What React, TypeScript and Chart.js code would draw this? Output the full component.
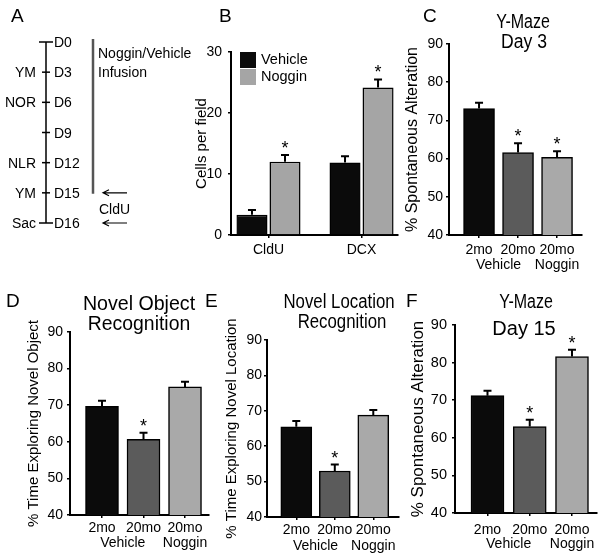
import React, { useEffect, useRef } from 'react';
import { Chart, registerables } from 'chart.js';
Chart.register(...registerables);

const LS = '"Liberation Sans", Arial, Helvetica, sans-serif';

// ---------- Panel A: timeline ----------
const timelineDays = ['D0', 'D3', 'D6', 'D9', 'D12', 'D15', 'D16'];
const timelineTests = ['', 'YM', 'NOR', '', 'NLR', 'YM', 'Sac'];
const infusionStart = 0;
const infusionEnd = 5;
const clduDays = [5, 6];
const infusionText = ['Noggin/Vehicle', 'Infusion'];

// ---------- Panel B ----------
const bCategories = ['CldU', 'DCX'];
const bSeries = ['Vehicle', 'Noggin'];
const bVehicle = [3.3, 11.9];
const bVehicleErr = [0.8, 1.0];
const bVehicleSig = [false, false];
const bNoggin = [12.0, 24.2];
const bNogginErr = [1.1, 1.3];
const bNogginSig = [true, true];

// ---------- Panels C-F ----------
const groupTicks = ['2mo', '20mo', '20mo'];
const groupNames = ['Vehicle', 'Noggin'];
const groupMembers = [[0, 1], [2, 2]];
const barColors = ['#0b0b0b', '#5b5b5b', '#a9a9a9'];

const cValues = [73.1, 61.6, 60.3];
const cErr = [1.5, 2.4, 1.6];
const cSig = [false, true, true];

const dValues = [69.7, 60.7, 75.0];
const dErr = [1.5, 1.8, 1.4];
const dSig = [false, true, false];

const eValues = [65.5, 53.0, 68.8];
const eErr = [1.6, 1.8, 1.4];
const eSig = [false, true, false];

const fValues = [71.2, 63.0, 81.6];
const fErr = [1.3, 1.8, 1.8];
const fSig = [false, true, true];

// ---------- plugins ----------
type TextItem = { text: string; x: number; y: number; size: number; align?: CanvasTextAlign; sx?: number };

const textPlugin = (items: TextItem[]) => ({
  id: 'panelText',
  afterDraw(chart: any) {
    const ctx = chart.ctx;
    items.forEach((it) => {
      ctx.save();
      ctx.fillStyle = '#000';
      ctx.font = `${it.size}px ${LS}`;
      ctx.textAlign = it.align || 'left';
      ctx.textBaseline = 'alphabetic';
      ctx.translate(it.x, it.y);
      ctx.scale(it.sx || 1, 1);
      ctx.fillText(it.text, 0, 0);
      ctx.restore();
    });
  },
});

const errorBarPlugin = (cap: number, starSize: number, starGap: number) => ({
  id: 'errorBars',
  afterDatasetsDraw(chart: any) {
    const ctx = chart.ctx;
    const ys = chart.scales.y;
    chart.data.datasets.forEach((ds: any, di: number) => {
      const meta = chart.getDatasetMeta(di);
      meta.data.forEach((el: any, i: number) => {
        const v = ds.data[i].y;
        const top = ys.getPixelForValue(v + ds.errors[i]);
        ctx.save();
        ctx.strokeStyle = '#000';
        ctx.lineWidth = 2;
        ctx.beginPath();
        ctx.moveTo(el.x, el.y);
        ctx.lineTo(el.x, top);
        ctx.moveTo(el.x - cap / 2, top);
        ctx.lineTo(el.x + cap / 2, top);
        ctx.stroke();
        if (ds.sig && ds.sig[i]) {
          ctx.fillStyle = '#000';
          ctx.font = `${starSize}px ${LS}`;
          ctx.textAlign = 'center';
          ctx.textBaseline = 'alphabetic';
          ctx.fillText('*', el.x, top - starGap);
        }
        ctx.restore();
      });
    });
  },
});

const groupLabelPlugin = (dy: number, size: number) => ({
  id: 'groupLabels',
  afterDraw(chart: any) {
    const xs = chart.scales.x;
    const ctx = chart.ctx;
    ctx.save();
    ctx.font = `${size}px ${LS}`;
    ctx.fillStyle = '#000';
    ctx.textAlign = 'center';
    ctx.textBaseline = 'middle';
    groupNames.forEach((name, g) => {
      const [a, b] = groupMembers[g];
      const x = (xs.getPixelForValue(a) + xs.getPixelForValue(b)) / 2;
      ctx.fillText(name, x, xs.top + dy);
    });
    ctx.restore();
  },
});

const boxLegendPlugin = (x: number, y: number, box: number, step: number, size: number) => ({
  id: 'boxLegend',
  afterDraw(chart: any) {
    const ctx = chart.ctx;
    chart.data.datasets.forEach((ds: any, i: number) => {
      const top = y + i * step;
      ctx.save();
      ctx.fillStyle = ds.backgroundColor;
      ctx.fillRect(x, top, box, box);
      ctx.fillStyle = '#000';
      ctx.font = `${size}px ${LS}`;
      ctx.textAlign = 'left';
      ctx.textBaseline = 'middle';
      ctx.fillText(ds.label, x + box + 5, top + box / 2);
      ctx.restore();
    });
  },
});

const timelinePlugin = {
  id: 'timeline',
  afterDatasetsDraw(chart: any) {
    const ctx = chart.ctx;
    const xs = chart.scales.x;
    const ys = chart.scales.y;
    const lx = xs.getPixelForValue(0);
    const ix = xs.getPixelForValue(1);
    ctx.save();
    ctx.fillStyle = '#000';
    ctx.font = `14px ${LS}`;
    ctx.textBaseline = 'alphabetic';
    timelineDays.forEach((d, i) => {
      const y = ys.getPixelForValue(i);
      ctx.textAlign = 'left';
      ctx.fillText(d, lx + 8, y + 5);
      if (timelineTests[i]) {
        ctx.textAlign = 'right';
        ctx.fillText(timelineTests[i], lx - 10, y + 5);
      }
    });
    const y0 = ys.getPixelForValue(infusionStart);
    ctx.textAlign = 'left';
    ctx.fillText(infusionText[0], ix + 5, y0 + 16);
    ctx.fillText(infusionText[1], ix + 5, y0 + 35);
    ctx.strokeStyle = '#000';
    ctx.lineWidth = 1.2;
    clduDays.forEach((d) => {
      const y = ys.getPixelForValue(d);
      ctx.beginPath();
      ctx.moveTo(ix + 34, y);
      ctx.lineTo(ix + 10, y);
      ctx.moveTo(ix + 16, y - 3);
      ctx.lineTo(ix + 10, y);
      ctx.lineTo(ix + 16, y + 3);
      ctx.stroke();
    });
    const ym = (ys.getPixelForValue(clduDays[0]) + ys.getPixelForValue(clduDays[1])) / 2;
    ctx.fillText('CldU', ix + 6, ym + 6.5);
    ctx.restore();
  },
};

// ---------- configs ----------
function makeTimelineConfig() {
  const w = 205, h = 285;
  const lineX = 46, infX = 93, top = 42, bottom = 223;
  const last = timelineDays.length - 1;
  return {
    type: 'scatter',
    data: {
      datasets: [
        {
          data: timelineDays.map((_, i) => ({ x: 0, y: i })),
          showLine: true,
          borderColor: '#000',
          borderWidth: 1.5,
          pointStyle: 'line',
          pointRadius: timelineDays.map((_, i) => (i === 0 || i === last ? 7 : 4)),
          pointBorderWidth: 1.5,
          pointBorderColor: '#000',
          clip: false,
        },
        {
          data: [
            { x: 1, y: infusionStart - 0.1 },
            { x: 1, y: infusionEnd + 0.03 },
          ],
          showLine: true,
          borderColor: '#555',
          borderWidth: 2.5,
          pointRadius: 0,
          clip: false,
        },
      ],
    },
    options: {
      responsive: false,
      animation: false,
      events: [],
      layout: { padding: { left: lineX, right: w - infX, top, bottom: h - bottom } },
      scales: {
        x: { type: 'linear', display: false, min: 0, max: 1 },
        y: { type: 'linear', display: false, min: 0, max: last, reverse: true },
      },
      plugins: { legend: { display: false }, tooltip: { enabled: false } },
    },
    plugins: [timelinePlugin, textPlugin([{ text: 'A', x: 11, y: 22, size: 19 }])],
  };
}

type Panel = {
  box: { x: number; y: number; w: number; h: number };
  area: { l: number; t: number; r: number; b: number };
  yW: number;
  xH: number;
  yMin: number;
  yMax: number;
  yTitle: string;
  yTitleSize: number;
  yTitlePad: number;
  yTickPad: number;
  yTickSize: number;
  xTickPad: number;
  xMin: number;
  xMax: number;
  labels: string[];
  datasets: any[];
  texts: TextItem[];
  extra: any[];
};

function makeBarConfig(p: Panel) {
  const { box, area } = p;
  const axisGrid = {
    display: true,
    drawOnChartArea: false,
    drawTicks: true,
    tickLength: 3,
    color: '#000',
    lineWidth: 1.5,
    offset: false,
  };
  const axisBorder = { display: true, color: '#000', width: 2 };
  return {
    type: 'bar',
    data: { datasets: p.datasets },
    options: {
      responsive: false,
      animation: false,
      events: [],
      layout: {
        padding: {
          left: area.l - box.x - p.yW,
          right: box.x + box.w - area.r,
          top: area.t - box.y,
          bottom: box.y + box.h - area.b - p.xH,
        },
      },
      plugins: { legend: { display: false }, tooltip: { enabled: false }, title: { display: false } },
      scales: {
        x: {
          type: 'linear',
          offset: false,
          bounds: 'data',
          min: p.xMin,
          max: p.xMax,
          afterBuildTicks: (s: any) => {
            s.ticks = p.labels.map((_, i) => ({ value: i }));
          },
          afterFit: (s: any) => {
            s.height = p.xH;
          },
          ticks: {
            callback: (v: any) => p.labels[v] ?? '',
            font: { family: LS, size: 14 },
            color: '#000',
            padding: p.xTickPad,
            maxRotation: 0,
            autoSkip: false,
          },
          grid: axisGrid,
          border: axisBorder,
        },
        y: {
          min: p.yMin,
          max: p.yMax,
          afterFit: (s: any) => {
            s.width = p.yW;
          },
          ticks: { stepSize: 10, font: { family: LS, size: p.yTickSize }, color: '#000', padding: p.yTickPad },
          title: {
            display: true,
            text: p.yTitle,
            font: { family: LS, size: p.yTitleSize },
            color: '#000',
            padding: { top: p.yTitlePad, bottom: 0 },
          },
          grid: axisGrid,
          border: axisBorder,
        },
      },
    },
    plugins: [errorBarPlugin(8, 18, 1), textPlugin(p.texts), ...p.extra],
  };
}

function threeBarDatasets(values: number[], errs: number[], sig: boolean[], thickness: number) {
  return [
    {
      data: values.map((v, i) => ({ x: i, y: v })),
      errors: errs,
      sig,
      backgroundColor: barColors,
      borderColor: '#000',
      borderWidth: 1.5,
      barThickness: thickness,
    },
  ];
}

const panelB = (): Panel => ({
  box: { x: 188, y: 0, w: 212, h: 290 },
  area: { l: 231, t: 52, r: 398, b: 235 },
  yW: 43,
  xH: 50,
  yMin: 0,
  yMax: 30,
  yTitle: 'Cells per field',
  yTitleSize: 15,
  yTitlePad: 5,
  yTickPad: 6,
  yTickSize: 14,
  xTickPad: 4,
  xMin: -0.403,
  xMax: 1.392,
  labels: bCategories,
  datasets: [
    {
      label: bSeries[0],
      data: bVehicle.map((v, i) => ({ x: i, y: v })),
      errors: bVehicleErr,
      sig: bVehicleSig,
      backgroundColor: '#0b0b0b',
      borderColor: '#000',
      borderWidth: 1.5,
      categoryPercentage: 0.71,
      barPercentage: 0.94,
    },
    {
      label: bSeries[1],
      data: bNoggin.map((v, i) => ({ x: i, y: v })),
      errors: bNogginErr,
      sig: bNogginSig,
      backgroundColor: '#a5a5a5',
      borderColor: '#000',
      borderWidth: 1.5,
      categoryPercentage: 0.71,
      barPercentage: 0.94,
    },
  ],
  texts: [{ text: 'B', x: 31, y: 22, size: 19 }],
  extra: [boxLegendPlugin(52, 52, 16, 17, 14.5)],
});

const panelC = (): Panel => ({
  box: { x: 400, y: 0, w: 201, h: 290 },
  area: { l: 449, t: 44, r: 582, b: 235 },
  yW: 49,
  xH: 50,
  yMin: 40,
  yMax: 90,
  yTitle: '% Spontaneous Alteration',
  yTitleSize: 16,
  yTitlePad: 3.4,
  yTickPad: 3,
  yTickSize: 14,
  xTickPad: 4,
  xMin: -0.77,
  xMax: 2.64,
  labels: groupTicks,
  datasets: threeBarDatasets(cValues, cErr, cSig, 31),
  texts: [
    { text: 'C', x: 23, y: 22, size: 19 },
    { text: 'Y-Maze', x: 123, y: 28, size: 20, align: 'center', sx: 0.8 },
    { text: 'Day 3', x: 124, y: 48, size: 20, align: 'center', sx: 0.88 },
  ],
  extra: [groupLabelPlugin(30, 14)],
});

const panelD = (): Panel => ({
  box: { x: 0, y: 285, w: 212, h: 275 },
  area: { l: 70, t: 332, r: 209, b: 515 },
  yW: 70,
  xH: 40,
  yMin: 40,
  yMax: 90,
  yTitle: '% Time Exploring Novel Object',
  yTitleSize: 15,
  yTitlePad: 25,
  yTickPad: 4,
  yTickSize: 14,
  xTickPad: 2,
  xMin: -0.771,
  xMax: 2.578,
  labels: groupTicks,
  datasets: threeBarDatasets(dValues, dErr, dSig, 33),
  texts: [
    { text: 'D', x: 6, y: 22, size: 19 },
    { text: 'Novel Object', x: 139, y: 25, size: 20, align: 'center', sx: 0.98 },
    { text: 'Recognition', x: 139, y: 45, size: 20, align: 'center', sx: 0.97 },
  ],
  extra: [groupLabelPlugin(28, 14)],
});

const panelE = (): Panel => ({
  box: { x: 200, y: 285, w: 200, h: 275 },
  area: { l: 267, t: 340, r: 399, b: 517 },
  yW: 67,
  xH: 40,
  yMin: 40,
  yMax: 90,
  yTitle: '% Time Exploring Novel Location',
  yTitleSize: 15,
  yTitlePad: 23,
  yTickPad: 2,
  yTickSize: 14,
  xTickPad: 2,
  xMin: -0.761,
  xMax: 2.668,
  labels: groupTicks,
  datasets: threeBarDatasets(eValues, eErr, eSig, 31),
  texts: [
    { text: 'E', x: 5, y: 22, size: 19 },
    { text: 'Novel Location', x: 139, y: 23, size: 20, align: 'center', sx: 0.84 },
    { text: 'Recognition', x: 142, y: 43, size: 20, align: 'center', sx: 0.84 },
  ],
  extra: [groupLabelPlugin(29, 14)],
});

const panelF = (): Panel => ({
  box: { x: 400, y: 285, w: 201, h: 275 },
  area: { l: 455, t: 325, r: 597, b: 513 },
  yW: 55,
  xH: 40,
  yMin: 40,
  yMax: 90,
  yTitle: '% Spontaneous Alteration',
  yTitleSize: 17,
  yTitlePad: 7.8,
  yTickPad: 5,
  yTickSize: 14.5,
  xTickPad: 5.6,
  xMin: -0.769,
  xMax: 2.592,
  labels: groupTicks,
  datasets: threeBarDatasets(fValues, fErr, fSig, 33),
  texts: [
    { text: 'F', x: 6, y: 22, size: 19 },
    { text: 'Y-Maze', x: 126, y: 23, size: 20, align: 'center', sx: 0.8 },
    { text: 'Day 15', x: 124, y: 50, size: 20, align: 'center', sx: 1.0 },
  ],
  extra: [groupLabelPlugin(31, 14)],
});

function ChartBox({ x, y, w, h, make }: { x: number; y: number; w: number; h: number; make: () => any }) {
  const ref = useRef<HTMLCanvasElement>(null);
  useEffect(() => {
    const chart = new Chart(ref.current as HTMLCanvasElement, make());
    return () => chart.destroy();
  }, []);
  return (
    <canvas
      ref={ref}
      width={w}
      height={h}
      style={{ position: 'absolute', left: x, top: y, width: w, height: h, display: 'block' }}
    />
  );
}

function BarPanel({ panel }: { panel: () => Panel }) {
  const p = panel();
  return <ChartBox x={p.box.x} y={p.box.y} w={p.box.w} h={p.box.h} make={() => makeBarConfig(panel())} />;
}

export default function App() {
  return (
    <div
      style={{
        position: 'absolute',
        left: 0,
        top: 0,
        width: 601,
        height: 560,
        background: '#fff',
        overflow: 'hidden',
      }}
    >
      <ChartBox x={0} y={0} w={205} h={285} make={makeTimelineConfig} />
      <BarPanel panel={panelB} />
      <BarPanel panel={panelC} />
      <BarPanel panel={panelD} />
      <BarPanel panel={panelE} />
      <BarPanel panel={panelF} />
    </div>
  );
}
